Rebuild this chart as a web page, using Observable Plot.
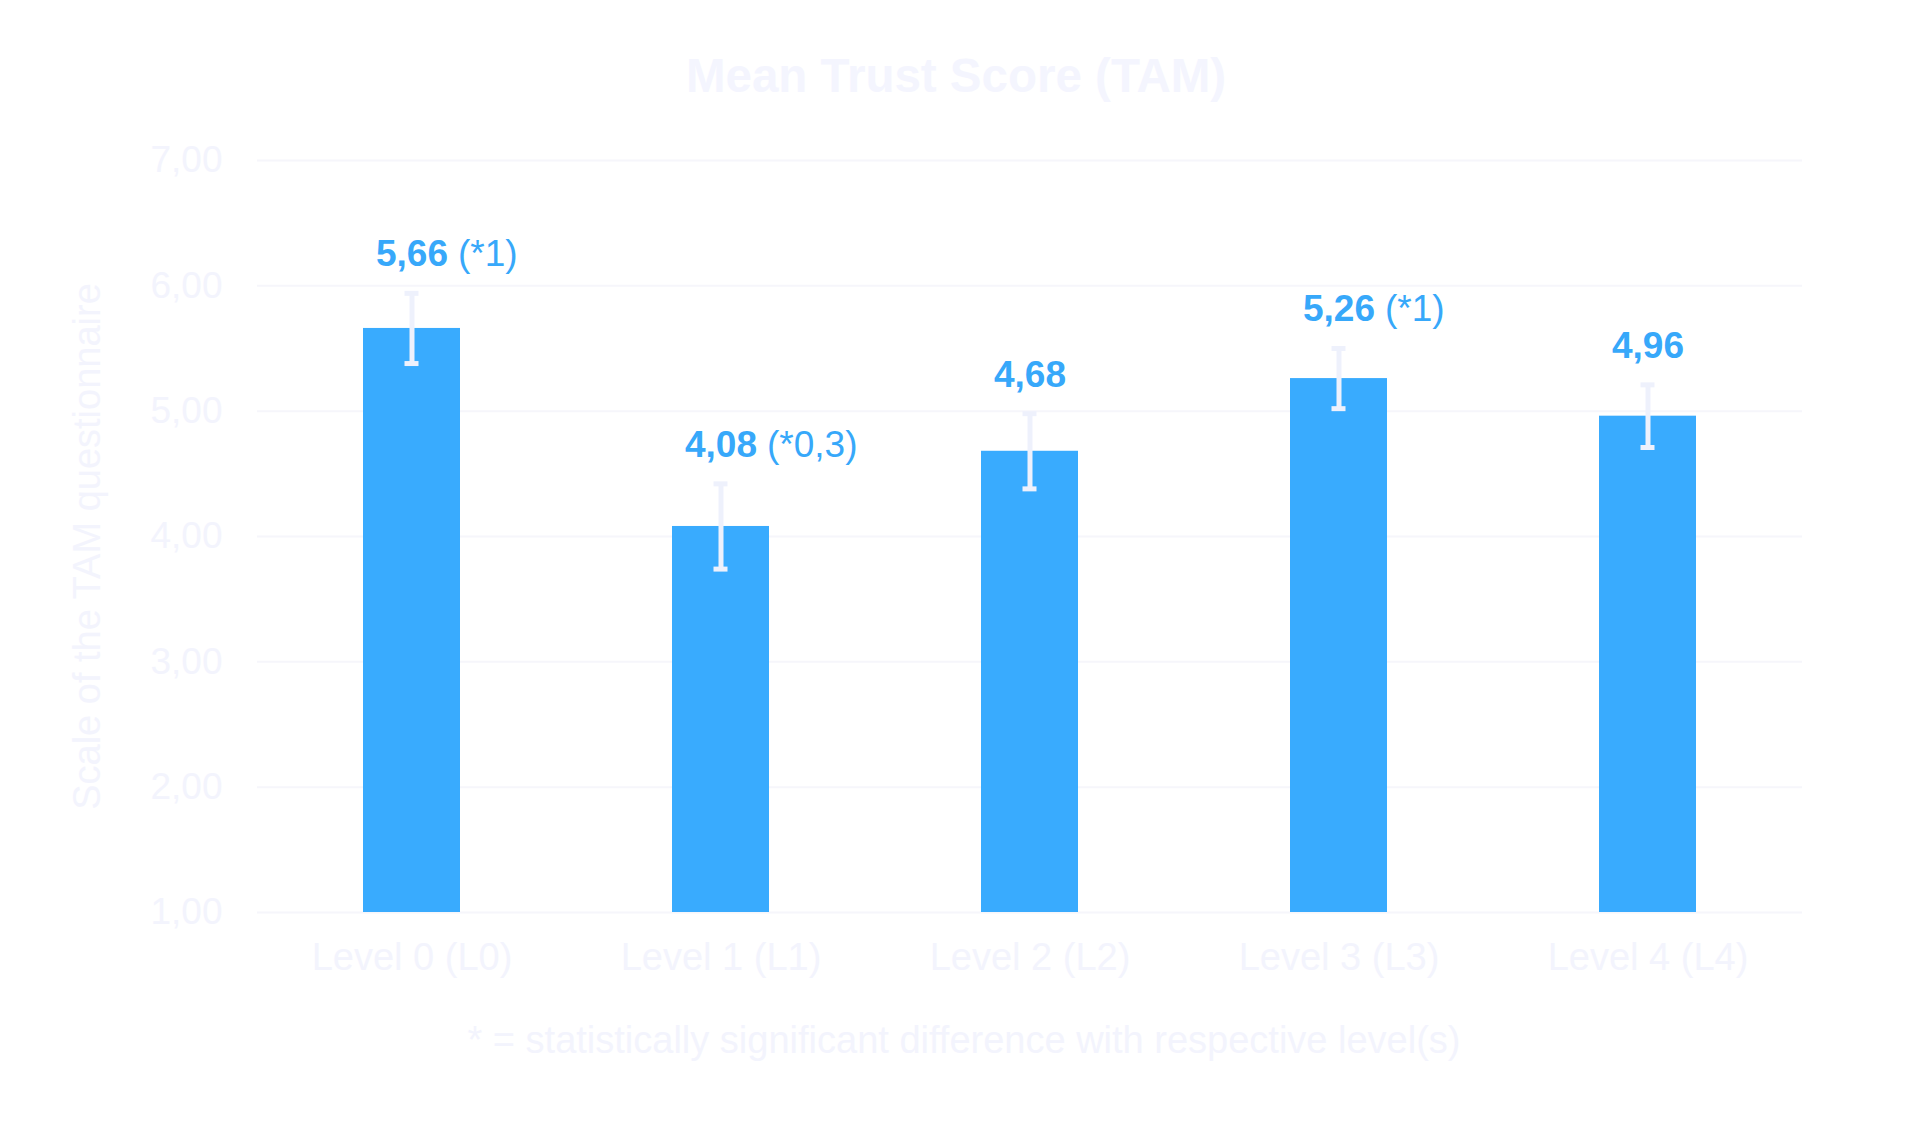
<!DOCTYPE html>
<html>
<head>
<meta charset="utf-8">
<script src="https://cdn.jsdelivr.net/npm/d3@7"></script>
<script src="https://cdn.jsdelivr.net/npm/@observablehq/plot@0.6"></script>
<style>
  html, body { margin: 0; padding: 0; background: #ffffff; }
  body { width: 1920px; height: 1139px; overflow: hidden; font-family: "Liberation Sans", Arial, sans-serif; }
  #title { height: 130px; box-sizing: border-box; padding-top: 52px; text-align: center;
           font-size: 47.5px; line-height: 47px; font-weight: bold; color: #F4F5FE; margin-left: -8px; }
  #chart { height: 870px; }
  #caption { height: 139px; box-sizing: border-box; padding-top: 21px; text-align: center;
             font-size: 38px; line-height: 38px; color: #F3F4FD; margin-left: 8px; }
</style>
</head>
<body>
<div id="title">Mean Trust Score (TAM)</div>
<div id="chart"></div>
<div id="caption">* = statistically significant difference with respective level(s)</div>
<script>
// ---- data ----
const levels = ["Level 0 (L0)", "Level 1 (L1)", "Level 2 (L2)", "Level 3 (L3)", "Level 4 (L4)"];
const means = [5.66, 4.08, 4.68, 5.26, 4.96];
const errors = [0.28, 0.34, 0.30, 0.24, 0.25];
const valueLabels = ["5,66", "4,08", "4,68", "5,26", "4,96"];
const sigNotes = ["(*1)", "(*0,3)", "", "(*1)", ""];
const yTicks = [1, 2, 3, 4, 5, 6, 7];
const yDomain = [1, 7];
const yTitle = "Scale of the TAM questionnaire";

const rows = levels.map((level, i) => ({
  level, mean: means[i], err: errors[i], label: valueLabels[i], note: sigNotes[i]
}));

const barColor = "#39ABFE";
const labelColor = "#37A8FA";
const axisColor = "#F3F4FD";
const gridColor = "#F6F6FB";
const errColor = "#EEF1FC";

const chart = Plot.plot({
  width: 1920,
  height: 870,
  marginLeft: 257,
  marginRight: 118,
  marginTop: 30,
  marginBottom: 88,
  style: { fontFamily: "'Liberation Sans', Arial, sans-serif", fontSize: "38px", background: "transparent", overflow: "visible" },
  x: { domain: levels, paddingInner: 0.686, paddingOuter: 0.343, label: null },
  y: { domain: yDomain, label: null },
  marks: [
    Plot.gridY(yTicks, { stroke: gridColor, strokeOpacity: 1, strokeWidth: 2 }),
    Plot.axisY({ ticks: yTicks, tickFormat: d => d.toFixed(2).replace(".", ","), tickSize: 0, tickPadding: 35, color: axisColor, fontSize: 37, label: null }),
    Plot.axisX({ tickSize: 0, tickPadding: 31, color: axisColor, fontSize: 38, label: null }),
    Plot.barY(rows, { x: "level", y1: () => yDomain[0], y2: "mean", fill: barColor }),
    Plot.ruleX(rows, { x: "level", y1: d => d.mean - d.err, y2: d => d.mean + d.err, stroke: errColor, strokeWidth: 5 }),
    Plot.tickY(rows, { x: "level", y: d => d.mean + d.err, stroke: errColor, strokeWidth: 5, insetLeft: 41.5, insetRight: 41.5 }),
    Plot.tickY(rows, { x: "level", y: d => d.mean - d.err, stroke: errColor, strokeWidth: 5, insetLeft: 41.5, insetRight: 41.5 }),
    Plot.text(rows, { x: "level", y: d => d.mean + d.err, text: "label", fill: labelColor, fontWeight: "bold", fontSize: 37, textAnchor: "middle", lineAnchor: "middle", dy: -39 }),
    Plot.text(rows, { x: "level", y: d => d.mean + d.err, text: "note", fill: labelColor, fontSize: 37, textAnchor: "start", lineAnchor: "middle", dx: 46, dy: -39 }),
    Plot.text([yTitle], { frameAnchor: "left", textAnchor: "middle", rotate: -90, dx: 87 - 257, dy: 10, fill: axisColor, fontSize: 38, lineAnchor: "middle" })
  ]
});
document.getElementById("chart").appendChild(chart);
</script>
</body>
</html>
